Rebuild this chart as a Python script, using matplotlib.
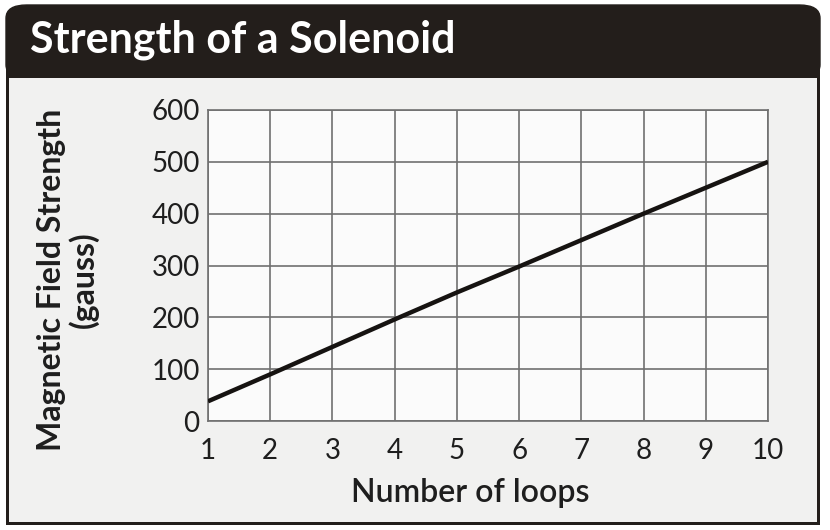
import matplotlib.pyplot as plt
from matplotlib.patches import FancyBboxPatch, Rectangle

# data
loops = [1, 2, 3, 4, 5, 6, 7, 8, 9, 10]
strength = [38, 90, 143, 196, 248, 298, 349, 400, 450, 500]
y_ticks = [0, 100, 200, 300, 400, 500, 600]

dark = "#231e1b"
paper = "#f1f1f0"

fig = plt.figure(figsize=(8.3, 5.3), dpi=100)
fig.patch.set_facecolor("white")

# outer frame + title bar
W, H = 830, 530
def fx(px):
    return px / W
def fy(py):
    return 1 - py / H

fig.patches.append(FancyBboxPatch((fx(6), fy(78)), fx(820) - fx(6), fy(5) - fy(78),
                                  boxstyle="round,pad=0,rounding_size=0.025",
                                  transform=fig.transFigure, facecolor=dark,
                                  edgecolor=dark, zorder=-3))
fig.patches.append(Rectangle((fx(6), fy(525)), fx(820) - fx(6), fy(60) - fy(525),
                             transform=fig.transFigure, facecolor=dark,
                             edgecolor="none", zorder=-2))
fig.patches.append(Rectangle((fx(9), fy(522)), fx(817) - fx(9), fy(78) - fy(522),
                             transform=fig.transFigure, facecolor=paper,
                             edgecolor="none", zorder=-1))

fig.text(fx(30), fy(40), "Strength of a Solenoid", color="white",
         fontsize=31, fontweight="bold", family="Lato", va="center", ha="left")

ax = fig.add_axes([fx(208), fy(421), fx(768) - fx(208), fy(110) - fy(421)])
ax.set_zorder(2)
ax.set_facecolor("#fbfbfb")
ax.plot(loops, strength, color="#161311", lw=3.2, solid_capstyle="butt", zorder=3)

ax.set_xlim(1, 10)
ax.set_ylim(0, 600)
ax.set_xticks(loops)
ax.set_yticks(y_ticks)
ax.grid(True, color="#707070", lw=1.2)
ax.set_axisbelow(True)
for s in ax.spines.values():
    s.set_color("#707070")
    s.set_linewidth(1.2)
ax.tick_params(length=0, labelsize=20, labelcolor="#1e1e1e")
ax.tick_params(axis="x", pad=12)
ax.tick_params(axis="y", pad=6)
for lab in ax.get_xticklabels() + ax.get_yticklabels():
    lab.set_family("Lato")

fig.text(fx(470), fy(493), "Number of loops", fontsize=23, family="Lato",
         fontweight="semibold", color="#1e1e1e", ha="center", va="center")
fig.text(fx(68), fy(280), "Magnetic Field Strength\n(gauss)", rotation=90,
         fontsize=23, fontweight="bold", family="Lato", color="#1e1e1e",
         ha="center", va="center", linespacing=1.05, multialignment="center")

fig.savefig("out.png", dpi=100, facecolor=fig.get_facecolor())
